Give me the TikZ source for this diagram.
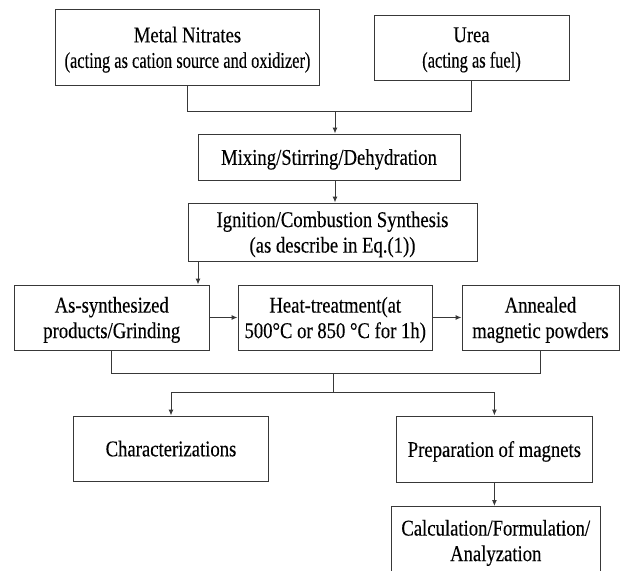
\documentclass[tikz,border=0pt]{standalone}
\usepackage{fontspec}
\setmainfont{Liberation Serif}[FakeStretch=0.83,FakeBold=0.2]
\newfontfamily\condfont{Liberation Serif}[FakeStretch=0.73,FakeBold=0.2]
\usetikzlibrary{arrows.meta}
\begin{document}
\begin{tikzpicture}[x=1pt,y=-1pt,
  box/.style={draw=black!78, line width=1pt, fill=white, inner sep=0pt, align=center,
    text depth=0pt, font=\fontsize{22.5}{25.5}\selectfont},
  conn/.style={draw=black!78, line width=1pt},
  arr/.style={conn, -{Latex[length=6pt,width=5pt]}}]
\useasboundingbox (0,0) rectangle (623,570);
\clip (0,0) rectangle (623,570);
\fill[white] (0,0) rectangle (623,570);

\node[box, minimum width=264pt, minimum height=76pt] (mn) at (187.5,47.3)
  {Metal Nitrates\\{\condfont (acting as cation source and oxidizer)}};
\node[box, minimum width=195pt, minimum height=65pt] (urea) at (471.5,47.5)
  {Urea\\{\condfont (acting as fuel)}};
\node[box, minimum width=262pt, minimum height=46pt] (mix) at (329,157)
  {Mixing/Stirring/Dehydration};
\node[box, minimum width=289pt, minimum height=58pt] (ign) at (332.5,232)
  {Ignition/Combustion Synthesis\\(as describe in Eq.(1))};
\node[box, minimum width=195.5pt, minimum height=65pt] (as) at (111.75,317.5)
  {As-synthesized\\products/Grinding};
\node[box, minimum width=194.5pt, minimum height=65pt] (heat) at (335.25,317.5)
  {Heat-treatment(at\\500°C or 850 °C for 1h)};
\node[box, minimum width=157pt, minimum height=65pt] (ann) at (540.5,317.5)
  {Annealed\\magnetic powders};
\node[box, minimum width=195.3pt, minimum height=65pt] (char) at (171,448.5)
  {Characterizations};
\node[box, minimum width=195.2pt, minimum height=66pt] (prep) at (494.4,449)
  {Preparation of magnets};
\node[box, minimum width=208.5pt, minimum height=68pt, anchor=north] (calc) at (495.75,506)
  {Calculation/Formulation/\\Analyzation};

\coordinate (j1) at (335,111);
\coordinate (k) at (198,270);
\coordinate (j2) at (333,373);
\coordinate (j3) at (333,392);

\draw[conn] (mn.south) |- (urea.south |- j1) -- (urea.south);
\draw[arr] (j1) -- (mix.north -| j1);
\draw[arr] (mix.south -| j1) -- (ign.north -| j1);
\draw[arr] (ign.south -| k) -- (as.north -| k);
\draw[arr] (as.east) -- (heat.west);
\draw[arr] (heat.east) -- (ann.west);
\draw[conn] (as.south) |- (ann.south |- j2) -- (ann.south);
\draw[conn] (j2) -- (j3);
\draw[arr] (j3) -| (char.north);
\draw[arr] (j3) -| (prep.north);
\draw[arr] (prep.south) -- (prep.south |- calc.north);
\end{tikzpicture}
\end{document}
